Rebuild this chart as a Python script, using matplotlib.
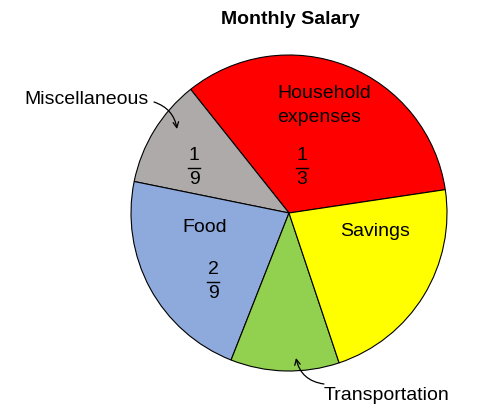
import matplotlib
matplotlib.use('Agg')
import matplotlib.pyplot as plt
from matplotlib.lines import Line2D

plt.rcParams['font.family'] = ['Liberation Sans', 'DejaVu Sans']

categories = ['Household expenses', 'Miscellaneous', 'Food', 'Transportation', 'Savings']
shares = [3, 1, 2, 1, 2]  # ninths of the salary
colors = ['#FF0000', '#AEAAAA', '#8EA9DB', '#92D050', '#FFFF00']

W, H = 498, 409


def fx(px):
    return px / W


def fy(py):
    return 1 - py / H


fig = plt.figure(figsize=(W / 100, H / 100), dpi=100)
cx, cy, r = 289, 213, 158
ax = fig.add_axes([fx(cx - r), fy(cy + r), 2 * r / W, 2 * r / H])
ax.pie(shares, colors=colors, startangle=8.5, counterclock=True,
       wedgeprops={'edgecolor': 'black', 'linewidth': 0.8})
ax.set_xlim(-1, 1)
ax.set_ylim(-1, 1)
ax.set_aspect('auto')
ax.axis('off')

fs = 14
fig.text(fx(290), fy(20), 'Monthly Salary', ha='center', va='center',
         fontsize=fs, fontweight='bold')

fig.text(fx(277), fy(93), 'Household', ha='left', va='center', fontsize=fs)
fig.text(fx(277), fy(117), 'expenses', ha='left', va='center', fontsize=fs)
fig.text(fx(205), fy(228), 'Food', ha='center', va='center', fontsize=fs)
fig.text(fx(375), fy(231), 'Savings', ha='center', va='center', fontsize=fs)

fracs = [('1', '3', 302, 168), ('1', '9', 194, 168), ('2', '9', 213, 282)]
for num, den, px, py in fracs:
    fig.text(fx(px), fy(py - 12), num, ha='center', va='center', fontsize=fs)
    fig.text(fx(px), fy(py + 12), den, ha='center', va='center', fontsize=fs)
    fig.add_artist(Line2D([fx(px - 6), fx(px + 6)], [fy(py), fy(py)],
                          color='black', lw=1, transform=fig.transFigure))

# outside labels with curved arrows
fig.text(fx(86), fy(100), 'Miscellaneous', ha='center', va='center', fontsize=fs)
fig.text(fx(386), fy(395), 'Transportation', ha='center', va='center', fontsize=fs)
arrow = dict(arrowstyle='->', color='black', lw=0.9, shrinkA=0, shrinkB=0)
ax.annotate('', xy=(fx(177), fy(129)), xytext=(fx(154), fy(102)),
            xycoords='figure fraction', textcoords='figure fraction',
            arrowprops=dict(arrow, connectionstyle='arc3,rad=-0.3'))
ax.annotate('', xy=(fx(296), fy(358)), xytext=(fx(324), fy(384)),
            xycoords='figure fraction', textcoords='figure fraction',
            arrowprops=dict(arrow, connectionstyle='arc3,rad=-0.35'))

fig.savefig('out.png', dpi=100)
